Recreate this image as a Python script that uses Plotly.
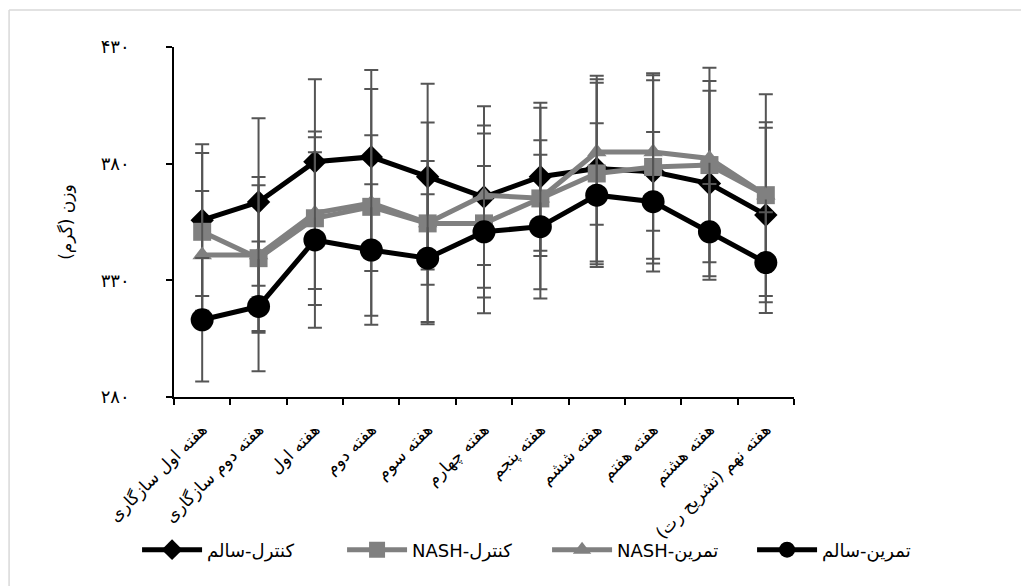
import plotly.graph_objects as go

weeks = ["هفته اول سازگاری", "هفته دوم سازگاری", "هفته اول", "هفته دوم", "هفته سوم",
         "هفته چهارم", "هفته پنجم", "هفته ششم", "هفته هفتم", "هفته هشتم", "هفته نهم (تشریح رت)"]

ctrl_healthy = [355.8, 363.6, 380.8, 382.9, 374.4, 365.7, 374.4, 377.9, 376.5, 371.5, 358.0]
ctrl_healthy_err = [32.5, 35.9, 35.4, 37.2, 39.8, 38.9, 31.7, 39.8, 39.3, 39.8, 37.4]

ctrl_nash = [350.8, 339.5, 356.6, 361.5, 354.4, 354.4, 365.1, 375.8, 378.6, 379.4, 366.5]
ctrl_nash_err = [33.8, 31.2, 37.2, 50.5, 43.2, 38.5, 38.9, 38.9, 39.3, 41.7, 43.2]

ex_nash = [340.9, 340.9, 358.8, 363.1, 354.6, 366.5, 365.2, 385.0, 385.0, 382.2, 366.5]
ex_nash_err = [27.4, 33.4, 32.5, 29.1, 26.5, 29.9, 24.8, 31.2, 33.8, 33.2, 31.2]

ex_healthy = [313.1, 318.8, 347.3, 343.0, 339.5, 350.8, 353.0, 366.5, 363.7, 350.8, 337.6]
ex_healthy_err = [26.5, 27.8, 37.6, 28.2, 27.4, 28.2, 30.8, 30.8, 29.9, 20.5, 21.6]

series_names = ["کنترل-سالم", "کنترل-NASH", "تمرین-NASH", "تمرین-سالم"]

y_tickvals = [280, 330, 380, 430]
y_ticktext = ["۲۸۰", "۳۳۰", "۳۸۰", "۴۳۰"]

FONT = "DejaVu Sans"
ERR_COLOR = "#555555"
RLE, PDF = "\u202b", "\u202c"   # right-to-left embedding, as in the original RTL legend

fig = go.Figure()

specs = [
    (series_names[0], ctrl_healthy, ctrl_healthy_err, "#000000", "diamond", 18),
    (series_names[1], ctrl_nash, ctrl_nash_err, "#808080", "square", 18),
    (series_names[2], ex_nash, ex_nash_err, "#808080", "triangle-up", 17),
    (series_names[3], ex_healthy, ex_healthy_err, "#000000", "circle", 23),
]

for name, vals, errs, col, sym, sz in specs:
    fig.add_trace(go.Scatter(
        x=weeks, y=vals, name=RLE + name + PDF, mode="lines+markers",
        line=dict(color=col, width=5),
        marker=dict(symbol=sym, size=sz, color=col, line=dict(width=0)),
        error_y=dict(type="data", array=errs, visible=True, color=ERR_COLOR,
                     thickness=2, width=7),
    ))

fig.update_layout(
    width=1029, height=586,
    margin=dict(l=166, r=243, t=39, b=197),
    paper_bgcolor="white", plot_bgcolor="white",
    font=dict(family=FONT, size=16, color="#000000"),
    showlegend=True,
    legend=dict(orientation="h", x=1.263, xanchor="right", y=-0.437, yanchor="middle",
                font=dict(family=FONT, size=18, color="#000000"),
                itemwidth=60, entrywidth=130, bgcolor="rgba(0,0,0,0)"),
    xaxis=dict(
        type="category", range=[-0.5, 10.5],
        showline=True, linecolor="#000000", linewidth=1.5,
        ticks="outside", tickson="boundaries", ticklen=6, tickcolor="#000000", tickwidth=1.5,
        tickangle=-45, ticklabelstandoff=14,
        tickfont=dict(family=FONT, size=17, color="#000000"),
        showgrid=False, zeroline=False,
    ),
    yaxis=dict(
        range=[280, 430], tickvals=y_tickvals, ticktext=y_ticktext,
        showline=True, linecolor="#000000", linewidth=1.5,
        ticks="outside", ticklen=6, tickcolor="#000000", tickwidth=1.5,
        ticklabelstandoff=33,
        tickfont=dict(family=FONT, size=18, color="#000000"),
        showgrid=False, zeroline=False,
        title=dict(text="وزن (گرم)", font=dict(family=FONT, size=17, color="#000000"), standoff=24),
    ),
    shapes=[
        dict(type="line", xref="paper", yref="paper", x0=-0.266, x1=1.4, y0=1.106, y1=1.106,
             line=dict(color="#d9d9d9", width=1.5)),
        dict(type="line", xref="paper", yref="paper", x0=-0.266, x1=-0.266, y0=1.106, y1=-0.58,
             line=dict(color="#d9d9d9", width=1.5)),
    ],
)

fig.write_html("out.html")
